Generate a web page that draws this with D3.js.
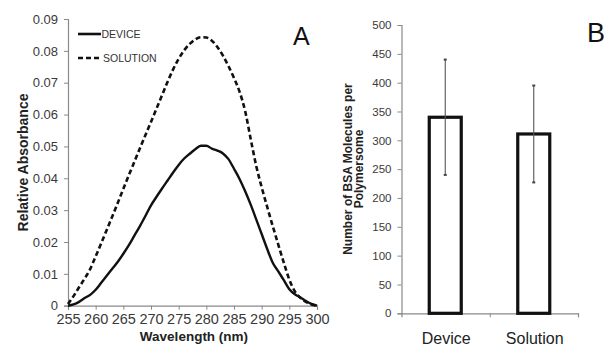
<!DOCTYPE html>
<html><head><meta charset="utf-8">
<script src="https://cdn.jsdelivr.net/npm/d3@7/dist/d3.min.js"></script>
<style>
html,body{margin:0;padding:0;background:#fff;}
svg{display:block;font-family:"Liberation Sans",Arial,sans-serif;}
</style></head>
<body>
<svg id="chart" width="604" height="348"></svg>
<script>
// Panel A data
const wavelengths = d3.range(255, 301, 1);
const deviceAbs = [0.0000,0.0004,0.0012,0.0024,0.0034,0.0050,0.0072,0.0094,0.0116,0.0138,
  0.0163,0.0190,0.0220,0.0250,0.0282,0.0315,0.0342,0.0368,0.0393,0.0418,
  0.0442,0.0462,0.0477,0.0491,0.0502,0.0502,0.0493,0.0487,0.0478,0.0460,
  0.0430,0.0398,0.0360,0.0318,0.0272,0.0225,0.0178,0.0135,0.0108,0.0080,
  0.0052,0.0036,0.0026,0.0015,0.0006,0.0000];
const solutionAbs = [0.0005,0.0030,0.0058,0.0085,0.0115,0.0155,0.0196,0.0238,0.0280,0.0323,
  0.0367,0.0410,0.0452,0.0494,0.0536,0.0577,0.0619,0.0661,0.0703,0.0742,
  0.0775,0.0802,0.0822,0.0836,0.0843,0.0842,0.0832,0.0812,0.0785,0.0752,
  0.0715,0.0672,0.0612,0.0525,0.0440,0.0372,0.0310,0.0250,0.0192,0.0135,
  0.0082,0.0045,0.0025,0.0012,0.0004,0.0000];
const xTicksA = [255,260,265,270,275,280,285,290,295,300];
const yTicksA = [0,0.01,0.02,0.03,0.04,0.05,0.06,0.07,0.08,0.09];
const legendLabels = ["DEVICE","SOLUTION"];

// Panel B data
const groups = ["Device","Solution"];
const bsaMean = [340, 311];
const bsaErr = [100, 84];
const yTicksB = [0,50,100,150,200,250,300,350,400,450,500];

const svg = d3.select("#chart");
const axisCol = "#8a8a8a";
const tickTxt = "#3a3a3a";

// ---------- Panel A ----------
const xA = d3.scaleLinear().domain([255,300]).range([68,317]);
const yA = d3.scaleLinear().domain([0,0.09]).range([305.7,19]);

const gA = svg.append("g");
const axA_y = gA.append("g").attr("transform","translate(68,0)")
  .call(d3.axisLeft(yA).tickValues(yTicksA).tickSize(4).tickPadding(6)
    .tickFormat(d => d===0 ? "0" : d.toFixed(2)));
const axA_x = gA.append("g").attr("transform","translate(0,305.7)")
  .call(d3.axisBottom(xA).tickValues(xTicksA).tickSize(4).tickPadding(4).tickFormat(d3.format("d")));
[axA_y, axA_x].forEach(a => {
  a.select(".domain").attr("stroke",axisCol).attr("stroke-width",1.2);
  a.selectAll(".tick line").attr("stroke",axisCol);
  a.selectAll("text").attr("fill",tickTxt).attr("font-family","Liberation Sans, Arial, sans-serif");
});
axA_y.selectAll("text").attr("font-size",13);
axA_x.selectAll("text").attr("font-size",14.5);

const lineA = (vals) => d3.line().x((d,i)=>xA(wavelengths[i])).y(d=>yA(d)).curve(d3.curveMonotoneX)(vals);
gA.append("path").attr("d",lineA(solutionAbs)).attr("fill","none").attr("stroke","#111")
  .attr("stroke-width",2.6).attr("stroke-dasharray","5,3");
gA.append("path").attr("d",lineA(deviceAbs)).attr("fill","none").attr("stroke","#111")
  .attr("stroke-width",2.4);

// legend
const legY = [34, 58];
legendLabels.forEach((lab,i) => {
  gA.append("line").attr("x1",78).attr("x2",i===0?101:102).attr("y1",legY[i]).attr("y2",legY[i])
    .attr("stroke","#111").attr("stroke-width",2.6).attr("stroke-dasharray", i===0?null:"5,3");
  gA.append("text").attr("x",i===0?101.5:103).attr("y",legY[i]).attr("dy","0.36em")
    .attr("font-size",10.5).attr("fill","#333").text(lab);
});

gA.append("text").attr("x",194).attr("y",341).attr("text-anchor","middle")
  .attr("font-size",13.5).attr("font-weight","bold").attr("fill","#222").text("Wavelength (nm)");
gA.append("text").attr("transform","translate(27.5,162.5) rotate(-90)").attr("text-anchor","middle")
  .attr("font-size",14).attr("font-weight","bold").attr("fill","#222").text("Relative Absorbance");
gA.append("text").attr("x",293).attr("y",45).attr("font-size",25).attr("fill","#111").text("A");

// ---------- Panel B ----------
const xB = d3.scalePoint().domain(groups).range([401,578]).padding(0.5);
const yB = d3.scaleLinear().domain([0,500]).range([313.3,25]);
const gB = svg.append("g");
const axB_y = gB.append("g").attr("transform","translate(401.5,0)")
  .call(d3.axisLeft(yB).tickValues(yTicksB).tickSize(4).tickPadding(6));
const axB_x = gB.append("g").attr("transform","translate(0,313.3)")
  .call(d3.axisBottom(d3.scaleLinear().domain([0,2]).range([401.5,578])).tickValues([1,2]).tickSize(4).tickFormat(""));
[axB_y, axB_x].forEach(a => {
  a.select(".domain").attr("stroke",axisCol).attr("stroke-width",1.2);
  a.selectAll(".tick line").attr("stroke",axisCol);
  a.selectAll("text").attr("fill",tickTxt).attr("font-family","Liberation Sans, Arial, sans-serif").attr("font-size",11.5);
});

const barW = 32;
groups.forEach((g,i) => {
  gB.append("rect").attr("x",xB(g)-barW/2).attr("width",barW)
    .attr("y",yB(bsaMean[i])).attr("height",yB(0)-yB(bsaMean[i]))
    .attr("fill","#fff").attr("stroke","#111").attr("stroke-width",3.2);
  const cx = xB(g);
  gB.append("line").attr("x1",cx).attr("x2",cx)
    .attr("y1",yB(bsaMean[i]+bsaErr[i])).attr("y2",yB(bsaMean[i]-bsaErr[i]))
    .attr("stroke","#555").attr("stroke-width",1.1);
  [bsaMean[i]+bsaErr[i], bsaMean[i]-bsaErr[i]].forEach(v => {
    gB.append("line").attr("x1",cx-1.5).attr("x2",cx+1.5).attr("y1",yB(v)).attr("y2",yB(v))
      .attr("stroke","#444").attr("stroke-width",2);
  });
  gB.append("text").attr("x",cx+1).attr("y",344).attr("text-anchor","middle")
    .attr("font-size",16).attr("fill","#222").text(g);
});

const yl = gB.append("text").attr("transform","translate(352,169) rotate(-90)").attr("text-anchor","middle")
  .attr("font-size",12).attr("font-weight","bold").attr("fill","#222");
yl.append("tspan").attr("x",0).attr("dy",0).text("Number of BSA Molecules per");
yl.append("tspan").attr("x",0).attr("dy","0.95em").text("Polymersome");
gB.append("text").attr("x",587).attr("y",42).attr("font-size",27).attr("fill","#111").text("B");
</script>
</body></html>
